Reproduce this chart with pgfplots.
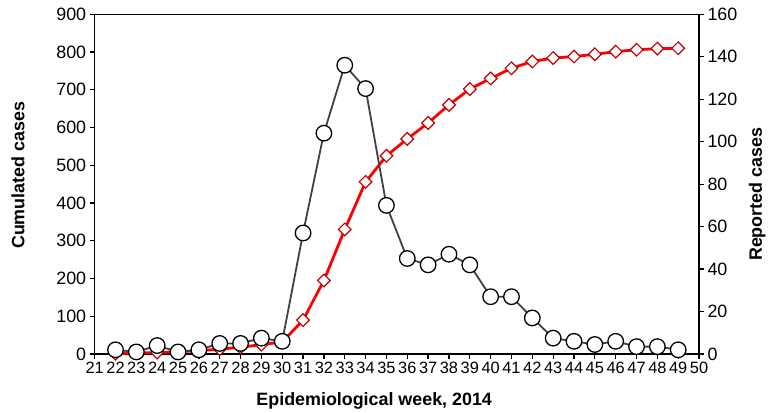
\documentclass[border=0pt]{standalone}
\usepackage{pgfplots}
\pgfplotsset{compat=1.18}
\usepackage{fontspec}
\setmainfont{Liberation Sans}
\definecolor{lgray}{HTML}{404040}
\definecolor{dred}{HTML}{C00000}
\pgfplotstableread{
week cum
22 1
23 3
24 4
25 6
26 9
27 13
28 18
29 25
30 32
31 90
32 195
33 330
34 456
35 525
36 570
37 612
38 660
39 702
40 730
41 757
42 775
43 784
44 788
45 794
46 801
47 806
48 809
49 810
}\cumtable
\pgfplotstableread{
week rep
22 2
23 1
24 4
25 1
26 2
27 5
28 5
29 7.5
30 6
31 57
32 104
33 136
34 125
35 70
36 45
37 42
38 47
39 42
40 27
41 27
42 17
43 7.5
44 6
45 4.5
46 6
47 3.5
48 3.5
49 2
}\reptable
\begin{document}
\begin{tikzpicture}
\pgfplotsset{
  common/.style={
    width=606.5bp, height=341bp, scale only axis,
    xmin=21, xmax=50,
    clip=false,
    tick align=outside,
    major tick length=5bp,
    axis line style={line width=1.5bp},
    every tick/.style={line width=1.3bp, black},
    yticklabel style={font=\fontsize{18}{18}\selectfont},
    xticklabel style={font=\fontsize{16.5}{16.5}\selectfont},
    /pgf/number format/assume math mode=true,
    label style={font=\bfseries\fontsize{18}{18}\selectfont},
  }
}
\begin{axis}[common,
  ymin=0, ymax=900, ytick={0,100,...,900},
  xtick={21,...,50},
  xtick pos=bottom, ytick pos=left,
  xlabel={Epidemiological week, 2014},
  ylabel={Cumulated cases},
  x label style={at={(axis description cs:0.4625,-0.1507)},anchor=base},
  y label style={at={(axis description cs:-0.127,0.526)},anchor=center,rotate=0},
]
\addplot[color=red, line width=2.8bp, mark=square*, mark size=4.5bp,
  mark options={fill=white, draw=dred, line width=1.2bp, rotate=45}] table[x=week,y=cum]{\cumtable};
\end{axis}
\begin{axis}[common,
  ymin=0, ymax=160, ytick={0,20,...,160},
  axis x line=none, axis y line*=right,
  ylabel={Reported cases},
  y label style={at={(axis description cs:1.0965,0.47)},anchor=center,rotate=0},
]
\addplot[color=lgray, line width=1.8bp, mark=*, mark size=7.8bp,
  mark options={fill=white, draw=black, line width=1.3bp}] table[x=week,y=rep]{\reptable};
\end{axis}
\path[use as bounding box] ([xshift=-95bp,yshift=-57.7bp]current axis.south west) rectangle ([xshift=67.5bp,yshift=14.3bp]current axis.north east);
\end{tikzpicture}
\end{document}
